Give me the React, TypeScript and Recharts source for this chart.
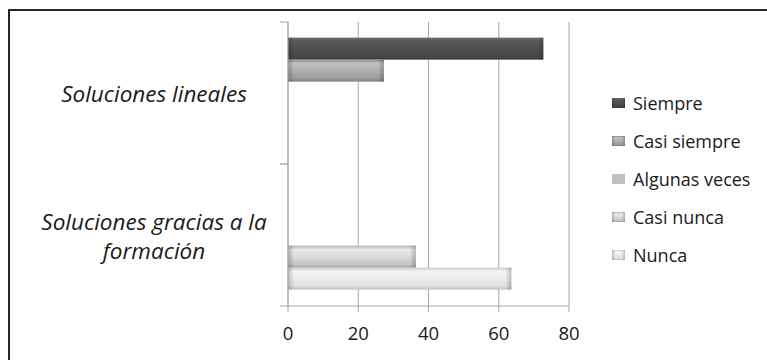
import React from "react";
import { BarChart, Bar, XAxis, YAxis, CartesianGrid } from "recharts";

// Categories (top to bottom) and the share of answers for each frequency
const categories = ["Soluciones lineales", "Soluciones gracias a la formación"];
const seriesNames = ["Siempre", "Casi siempre", "Algunas veces", "Casi nunca", "Nunca"];
const siempre = [72.7, 0];
const casiSiempre = [27.3, 0];
const algunasVeces = [0, 0];
const casiNunca = [0, 36.4];
const nunca = [0, 63.6];
const xTicks = [0, 20, 40, 60, 80];

const seriesValues = [siempre, casiSiempre, algunasVeces, casiNunca, nunca];

const data = categories.map((name, i) => {
  const row: Record<string, string | number> = { name };
  seriesNames.forEach((s, k) => {
    row[s] = seriesValues[k][i];
  });
  return row;
});

// Gray bevel styles: [top edge, highlight, middle, lower, bottom edge]
const seriesStyle = [
  { id: "g0", stops: ["#6a6a6a", "#5a5a5a", "#4e4e4e", "#474747", "#3a3a3a"], flat: false },
  { id: "g1", stops: ["#8e8e8e", "#c2c2c2", "#b0b0b0", "#9c9c9c", "#808080"], flat: false },
  { id: "g2", stops: ["#bfbfbf", "#bfbfbf", "#bfbfbf", "#bfbfbf", "#bfbfbf"], flat: true },
  { id: "g3", stops: ["#b4b4b4", "#e8e8e8", "#dcdcdc", "#c4c4c4", "#a2a2a2"], flat: false },
  { id: "g4", stops: ["#cccccc", "#f4f4f4", "#ededed", "#dddddd", "#c2c2c2"], flat: false },
];

const FONT = "'Open Sans', 'Noto Sans', sans-serif";
const W = 767;
const H = 360;
const MARGIN = { top: 22, right: 198, bottom: 0, left: 0 };
const X_AXIS_H = 54;
const Y_AXIS_W = 288;
const PLOT_H = H - MARGIN.top - MARGIN.bottom - X_AXIS_H;
const BAND = PLOT_H / categories.length;
const AXIS_COLOR = "#a8a8a8";

const wrap = (text: string, maxChars: number) => {
  const words = text.split(" ");
  const lines: string[] = [];
  let cur = "";
  words.forEach((w) => {
    const next = cur ? cur + " " + w : w;
    if (next.length > maxChars && cur) {
      lines.push(cur);
      cur = w;
    } else cur = next;
  });
  if (cur) lines.push(cur);
  return lines;
};

const CategoryTick = (props: any) => {
  const { x, y, payload } = props;
  const lines = wrap(String(payload.value), 24);
  const lh = 29;
  return (
    <g>
      <line x1={x} x2={x + 8} y1={y - BAND / 2} y2={y - BAND / 2} stroke={AXIS_COLOR} />
      <line x1={x} x2={x + 8} y1={y + BAND / 2} y2={y + BAND / 2} stroke={AXIS_COLOR} />
      {lines.map((l, i) => (
        <text
          key={i}
          x={x - 126}
          y={y + 1 + (i - (lines.length - 1) / 2) * lh}
          dy="0.36em"
          textAnchor="middle"
          fontFamily={FONT}
          fontStyle="italic"
          fontSize={22.5}
          fill="#1a1a1a"
        >
          {l}
        </text>
      ))}
    </g>
  );
};

const ValueTick = (props: any) => {
  const { x, y, payload } = props;
  return (
    <text x={x} y={y} dy={26} textAnchor="middle" fontFamily={FONT} fontSize={18.5} fill="#1a1a1a">
      {payload.value}
    </text>
  );
};

const BevelBar = (props: any) => {
  const { x, y, width, height, idx } = props;
  if (!width || !height) return null;
  const st = seriesStyle[idx];
  const b = Math.min(6, width / 2);
  return (
    <g>
      <rect x={x} y={y} width={width} height={height} fill={`url(#${st.id})`} />
      {!st.flat && (
        <>
          <rect x={x} y={y} width={b} height={height} fill="url(#bevelL)" />
          <rect x={x + width - b} y={y} width={b} height={height} fill="url(#bevelR)" />
        </>
      )}
    </g>
  );
};

const LegendBox = () => (
  <div style={{ position: "absolute", left: 612, top: 84 }}>
    {seriesNames.map((s, k) => (
      <div key={s} style={{ display: "flex", alignItems: "center", height: 37.9 }}>
        <svg width={14} height={10} style={{ marginRight: 7 }}>
          <rect x={0} y={0} width={13} height={10} fill={`url(#${seriesStyle[k].id})`} />
          {!seriesStyle[k].flat && (
            <>
              <rect x={0} y={0} width={3} height={10} fill="url(#bevelL)" />
              <rect x={10} y={0} width={3} height={10} fill="url(#bevelR)" />
            </>
          )}
        </svg>
        <span style={{ fontFamily: FONT, fontSize: 18, color: "#1a1a1a", whiteSpace: "nowrap" }}>{s}</span>
      </div>
    ))}
  </div>
);

export default function App() {
  return (
    <div style={{ position: "fixed", left: 0, top: 0, width: W, height: H, background: "#fff", overflow: "hidden" }}>
      <div
        style={{
          position: "absolute",
          left: 8,
          top: 9,
          width: W,
          height: H,
          borderTop: "2px solid #262626",
          borderLeft: "2px solid #262626",
        }}
      />
      <div style={{ position: "absolute", left: 0, top: 0 }}>
        <BarChart
          width={W}
          height={H}
          layout="vertical"
          data={data}
          margin={MARGIN}
          barGap={0}
          barCategoryGap="11%"
        >
          <defs>
            {seriesStyle.map((st) => (
              <linearGradient key={st.id} id={st.id} x1="0" y1="0" x2="0" y2="1">
                <stop offset="0%" stopColor={st.stops[0]} />
                <stop offset="18%" stopColor={st.stops[1]} />
                <stop offset="50%" stopColor={st.stops[2]} />
                <stop offset="85%" stopColor={st.stops[3]} />
                <stop offset="100%" stopColor={st.stops[4]} />
              </linearGradient>
            ))}
            <linearGradient id="bevelL" x1="0" y1="0" x2="1" y2="0">
              <stop offset="0%" stopColor="#000" stopOpacity={0.22} />
              <stop offset="100%" stopColor="#000" stopOpacity={0} />
            </linearGradient>
            <linearGradient id="bevelR" x1="0" y1="0" x2="1" y2="0">
              <stop offset="0%" stopColor="#000" stopOpacity={0} />
              <stop offset="100%" stopColor="#000" stopOpacity={0.22} />
            </linearGradient>
          </defs>
          <CartesianGrid horizontal={false} stroke={AXIS_COLOR} />
          <XAxis
            type="number"
            domain={[0, 80]}
            ticks={xTicks}
            interval={0}
            height={X_AXIS_H}
            stroke={AXIS_COLOR}
            tickSize={6}
            tickMargin={2}
            tick={<ValueTick />}
          />
          <YAxis
            type="category"
            dataKey="name"
            width={Y_AXIS_W}
            stroke={AXIS_COLOR}
            tickLine={false}
            tickSize={8}
            tickMargin={0}
            tick={<CategoryTick />}
          />
          {seriesNames.map((s, k) => (
            <Bar
              key={s}
              dataKey={s}
              name={s}
              fill={seriesStyle[k].stops[2]}
              isAnimationActive={false}
              shape={(p: any) => <BevelBar {...p} idx={k} />}
            />
          ))}
        </BarChart>
      </div>
      <LegendBox />
    </div>
  );
}
